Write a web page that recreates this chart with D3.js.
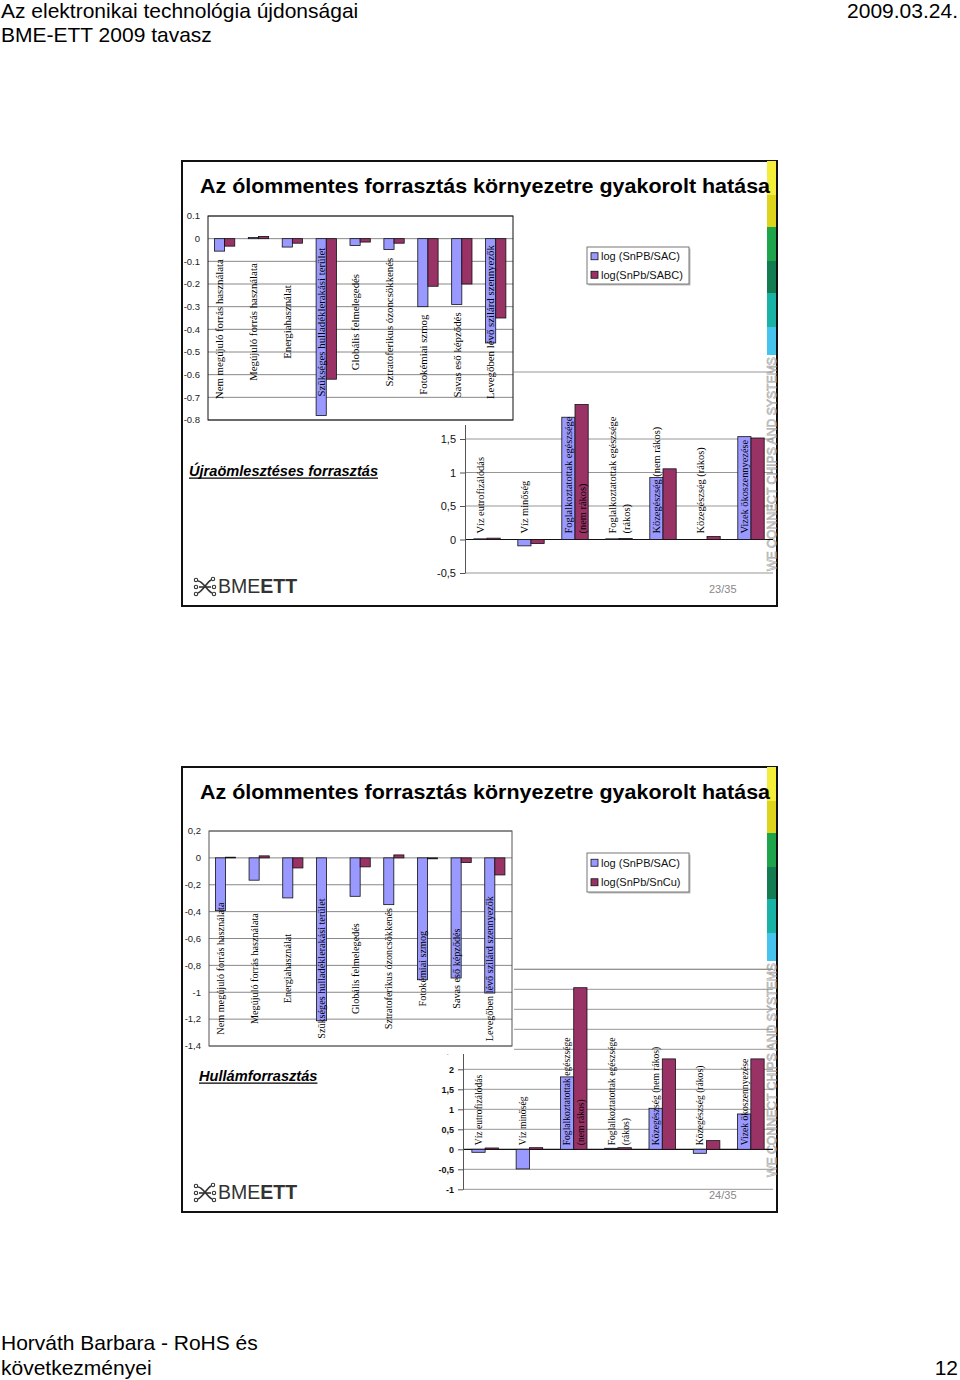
<!DOCTYPE html>
<html>
<head>
<meta charset="utf-8">
<script src="https://cdn.jsdelivr.net/npm/d3@7"></script>
<style>
  body { margin: 0; background: #fff; }
  svg { display: block; }
</style>
</head>
<body>
<svg id="page" width="960" height="1380"></svg>
<script>

// categories
var upperCategories = ['Nem megújuló forrás használata', 'Megújuló forrás használata', 'Energiahasználat',
    'Szükséges hulladéklerakási terület', 'Globális felmelegedés', 'Sztratoferikus ózoncsökkenés',
    'Fotokémiai szmog', 'Savas eső képződés', 'Levegőben lévő szilárd szennyezők']
var lowerCategories = ['Víz eutrofizálódás', 'Víz minőség', 'Foglalkoztatottak egészsége\n(nem rákos)',
    'Foglalkoztatottak egészsége\n(rákos)', 'Közegészség (nem rákos)', 'Közegészség (rákos)', 'Vizek ökoszennyezése']

// slide 23 - reflow soldering
var reflowUpperSAC  = [-0.055, 0.005, -0.037, -0.78, -0.03, -0.048, -0.30, -0.29, -0.46]
var reflowUpperSABC = [-0.033, 0.01, -0.02, -0.62, -0.015, -0.02, -0.21, -0.20, -0.35]
var reflowLowerSAC  = [0.01, -0.095, 1.825, 0.01, 0.925, 0, 1.535]
var reflowLowerSABC = [0.02, -0.06, 2.015, 0.015, 1.055, 0.045, 1.515]

// slide 24 - wave soldering
var waveUpperSAC  = [-0.393, -0.166, -0.298, -1.212, -0.286, -0.348, -0.907, -0.894, -1.006]
var waveUpperSnCu = [0.005, 0.015, -0.075, 0, -0.067, 0.022, -0.007, -0.035, -0.127]
var waveLowerSAC  = [-0.075, -0.49, 1.81, 0.025, 1.025, -0.1, 0.883]
var waveLowerSnCu = [0.033, 0.04, 4.04, 0.04, 2.26, 0.217, 2.26]

// legends
var reflowLegend = ['log (SnPB/SAC)', 'log(SnPb/SABC)']
var waveLegend = ['log (SnPB/SAC)', 'log(SnPb/SnCu)']

// tick values
var reflowUpperTicks = [0.1, 0, -0.1, -0.2, -0.3, -0.4, -0.5, -0.6, -0.7, -0.8]
var reflowLowerTicks = [1.5, 1, 0.5, 0, -0.5]
var waveUpperTicks = [0.2, 0, -0.2, -0.4, -0.6, -0.8, -1, -1.2, -1.4]
var waveLowerTicks = [4.5, 4, 3.5, 3, 2.5, 2, 1.5, 1, 0.5, 0, -0.5, -1]

var colours = { a: '#9999ff', b: '#993366' }
var stripeColours = ['#f4ee3a', '#ddd41c', '#1ea54b', '#137c50', '#19b3a5', '#46c4ee']
var sans = "'Liberation Sans', Arial, sans-serif"
var serif = "'Liberation Serif', 'Times New Roman', serif"

var slides = [
    {
        'top': 161, 'page': '23/35',
        'subtitle': { 'text': 'Újraömlesztéses forrasztás', 'x': 189, 'y': 475.7 },
        'cover': { 'x': 183, 'y': 203, 'w': 331, 'h': 222 },
        'legend': { 'x': 587, 'y': 247, 'w': 102, 'h': 37, 'labels': reflowLegend },
        'upper': { 'a': reflowUpperSAC, 'b': reflowUpperSABC, 'ticks': reflowUpperTicks, 'sep': '.',
            'domain': [-0.8, 0.1], 'left': 208, 'right': 513, 'top': 216, 'bottom': 420,
            'labelFont': 10.8, 'labelMid': 0.52, 'avoidBars': true, 'frame': '#111' },
        'lower': { 'a': reflowLowerSAC, 'b': reflowLowerSABC, 'ticks': reflowLowerTicks,
            'domain': [-0.5, 2.5], 'left': 465, 'right': 773, 'top': 372, 'bottom': 573,
            'labelFont': 10.4, 'tickFont': 11, 'tickWeight': 'normal', 'lift': 6 }
    },
    {
        'top': 767, 'page': '24/35',
        'subtitle': { 'text': 'Hullámforrasztás', 'x': 199, 'y': 1080.7 },
        'cover': { 'x': 183, 'y': 808, 'w': 331, 'h': 246 },
        'legend': { 'x': 587, 'y': 853, 'w': 102, 'h': 39, 'labels': waveLegend },
        'upper': { 'a': waveUpperSAC, 'b': waveUpperSnCu, 'ticks': waveUpperTicks, 'sep': ',',
            'domain': [-1.4, 0.2], 'left': 209, 'right': 512, 'top': 831, 'bottom': 1046,
            'labelFont': 10.2, 'labelMid': 0.64, 'avoidBars': false, 'frame': '#555' },
        'lower': { 'a': waveLowerSAC, 'b': waveLowerSnCu, 'ticks': waveLowerTicks,
            'domain': [-1, 4.5], 'left': 463, 'right': 773, 'top': 969.3, 'bottom': 1189.3,
            'labelFont': 9.6, 'tickFont': 9, 'tickWeight': 'bold', 'lift': 4 }
    }
]

var svg = d3.select('#page')

function fmt(v, sep) {
    return String(v).replace('.', sep)
}

// page header / footer
var header = svg.append('g').style('font-family', sans).style('font-size', '21px').attr('fill', '#000')
header.append('text').attr('x', 1).attr('y', 18).text('Az elektronikai technológia újdonságai')
header.append('text').attr('x', 1).attr('y', 42).text('BME-ETT 2009 tavasz')
header.append('text').attr('x', 958).attr('y', 18).attr('text-anchor', 'end').text('2009.03.24.')
header.append('text').attr('x', 1).attr('y', 1350).text('Horváth Barbara - RoHS és')
header.append('text').attr('x', 1).attr('y', 1375).text('következményei')
header.append('text').attr('x', 958).attr('y', 1375).attr('text-anchor', 'end').text('12')


function drawUpper(g, cfg) {
    var y = d3.scaleLinear().domain(cfg.domain).range([cfg.bottom, cfg.top])
    var x0 = d3.scaleBand().domain(upperCategories).range([cfg.left, cfg.right])
    var bw = x0.bandwidth()
    var x1 = d3.scaleBand().domain(['a', 'b']).range([bw * 0.19, bw * 0.79])

    g.append('rect')
    .attr('x', cfg.left).attr('y', cfg.top)
    .attr('width', cfg.right - cfg.left).attr('height', cfg.bottom - cfg.top)
    .attr('fill', '#fff')

    g.selectAll('.grid')
    .data(cfg.ticks)
    .enter()
    .append('line')
    .attr('x1', cfg.left).attr('x2', cfg.right)
    .attr('y1', d => y(d)).attr('y2', d => y(d))
    .style('stroke', '#7a7a7a')
    .style('stroke-width', 0.9)

    g.selectAll('.tick-label')
    .data(cfg.ticks)
    .enter()
    .append('text')
    .attr('x', cfg.left - 8)
    .attr('y', d => y(d))
    .attr('dy', '0.35em')
    .attr('text-anchor', 'end')
    .style('font-family', sans)
    .style('font-size', '9.5px')
    .attr('fill', '#222')
    .text(d => fmt(d, cfg.sep))

    // bars
    upperCategories.forEach(function(c, i) {
        [['a', cfg.a[i]], ['b', cfg.b[i]]].forEach(function(s) {
            g.append('rect')
            .attr('x', x0(c) + x1(s[0]))
            .attr('width', x1.bandwidth())
            .attr('y', y(Math.max(0, s[1])))
            .attr('height', Math.abs(y(s[1]) - y(0)))
            .attr('fill', colours[s[0]])
            .style('stroke', '#111')
            .style('stroke-width', 0.8)
        })
    })

    g.append('rect')
    .attr('x', cfg.left).attr('y', cfg.top)
    .attr('width', cfg.right - cfg.left).attr('height', cfg.bottom - cfg.top)
    .attr('fill', 'none')
    .style('stroke', cfg.frame)
    .style('stroke-width', 1)

    // category labels, rotated
    var mid = cfg.top + (cfg.bottom - cfg.top) * cfg.labelMid
    upperCategories.forEach(function(c, i) {
        var cx = x0(c) + x1('a') + x1.bandwidth() / 2
        var t = g.append('text')
        .attr('dy', '0.35em')
        .style('font-family', serif)
        .style('font-size', cfg.labelFont + 'px')
        .attr('fill', '#000')
        .text(c)

        var len = t.node().getComputedTextLength()
        var topY = mid - len / 2

        if (cfg.avoidBars) {
            var barBottom = y(Math.min(0, cfg.a[i], cfg.b[i])) + 8
            if (barBottom > topY && barBottom + len < cfg.bottom - 4) {
                topY = barBottom
            }
        }
        t.attr('transform', 'translate(' + cx + ',' + (topY + len) + ') rotate(-90)')
    })
}


function drawLower(g, cfg) {
    var y = d3.scaleLinear().domain(cfg.domain).range([cfg.bottom, cfg.top])
    var x0 = d3.scaleBand().domain(lowerCategories).range([cfg.left, cfg.right])
    var bw = x0.bandwidth()
    var x1 = d3.scaleBand().domain(['a', 'b']).range([bw * 0.2, bw * 0.8])

    // top of plot area
    g.append('line')
    .attr('x1', cfg.left).attr('x2', cfg.right)
    .attr('y1', y(cfg.domain[1])).attr('y2', y(cfg.domain[1]))
    .style('stroke', '#8a8a8a')
    .style('stroke-width', 0.9)

    g.selectAll('.grid')
    .data(cfg.ticks)
    .enter()
    .append('line')
    .attr('x1', cfg.left).attr('x2', cfg.right)
    .attr('y1', d => y(d)).attr('y2', d => y(d))
    .style('stroke', d => d === 0 ? '#111' : '#8a8a8a')
    .style('stroke-width', d => d === 0 ? 1.2 : 0.9)

    // axis
    var axis = d3.axisLeft(y)
    .tickValues(cfg.ticks)
    .tickSize(5)
    .tickSizeOuter(0)
    .tickPadding(4)
    .tickFormat(d => fmt(d, ','))

    var yAxis = g.append('g')
    .attr('transform', 'translate(' + cfg.left + ',0)')
    .call(axis)

    yAxis.select('.domain').style('stroke', '#555')
    yAxis.selectAll('.tick line').style('stroke', '#555')
    yAxis.selectAll('.tick text')
    .style('font-family', sans)
    .style('font-size', cfg.tickFont + 'px')
    .style('font-weight', cfg.tickWeight)
    .attr('fill', '#111')

    // bars
    lowerCategories.forEach(function(c, i) {
        [['a', cfg.a[i]], ['b', cfg.b[i]]].forEach(function(s) {
            g.append('rect')
            .attr('x', x0(c) + x1(s[0]))
            .attr('width', x1.bandwidth())
            .attr('y', y(Math.max(0, s[1])))
            .attr('height', Math.abs(y(s[1]) - y(0)))
            .attr('fill', colours[s[0]])
            .style('stroke', '#111')
            .style('stroke-width', 0.8)
        })
    })

    // category labels, rotated, wrapped lines side by side
    var baseY = y(0) - cfg.lift
    lowerCategories.forEach(function(c) {
        var cx = x0(c) + x1('a') + x1.bandwidth() / 2
        c.split('\n').forEach(function(line, k) {
            g.append('text')
            .attr('transform', 'translate(' + (cx + k * 14) + ',' + baseY + ') rotate(-90)')
            .attr('dy', '0.35em')
            .style('font-family', serif)
            .style('font-size', cfg.labelFont + 'px')
            .attr('fill', '#000')
            .text(line)
        })
    })
}


function drawLegend(g, cfg) {
    g.append('rect')
    .attr('x', cfg.x + 1.5).attr('y', cfg.y + 1.5)
    .attr('width', cfg.w).attr('height', cfg.h)
    .attr('fill', '#bbb')

    g.append('rect')
    .attr('x', cfg.x).attr('y', cfg.y)
    .attr('width', cfg.w).attr('height', cfg.h)
    .attr('fill', '#fff')
    .style('stroke', '#777')
    .style('stroke-width', 1)

    var keys = ['a', 'b']
    var rowH = cfg.h / 2
    cfg.labels.forEach(function(label, i) {
        var cy = cfg.y + rowH * (i + 0.5)
        g.append('rect')
        .attr('x', cfg.x + 4).attr('y', cy - 3.5)
        .attr('width', 7).attr('height', 7)
        .attr('fill', colours[keys[i]])
        .style('stroke', '#111')
        .style('stroke-width', 0.8)

        g.append('text')
        .attr('x', cfg.x + 14).attr('y', cy)
        .attr('dy', '0.36em')
        .style('font-family', sans)
        .style('font-size', '11px')
        .attr('fill', '#111')
        .text(label)
    })
}


function drawLogo(g, x, y) {
    // small circuit glyph
    var icon = g.append('g')
    .style('stroke', '#333').style('stroke-width', 1.6).attr('fill', 'none')
    icon.append('path').attr('d', 'M' + (x - 20) + ',' + (y - 12) + ' C' + (x - 15) + ',' + (y - 12) + ' ' + (x - 11) + ',' + (y - 2) + ' ' + (x - 6) + ',' + (y + 0))
    icon.append('path').attr('d', 'M' + (x - 7) + ',' + (y - 13) + ' C' + (x - 11) + ',' + (y - 11) + ' ' + (x - 15) + ',' + (y - 2) + ' ' + (x - 20) + ',' + (y + 0))
    icon.append('path').attr('d', 'M' + (x - 19) + ',' + (y - 6) + ' L' + (x - 7) + ',' + (y - 6))
    ;[[-22, -13], [-5, -14], [-22, 1], [-4, 1], [-22, -6], [-4, -6]].forEach(function(p) {
        icon.append('circle')
        .attr('cx', x + p[0]).attr('cy', y + p[1]).attr('r', 1.7)
        .attr('fill', '#fff').style('stroke-width', 1.1)
    })

    var t = g.append('text')
    .attr('x', x).attr('y', y)
    .style('font-family', sans)
    .style('font-size', '19.5px')
    .attr('fill', '#333')
    t.append('tspan').text('BME')
    t.append('tspan').style('font-weight', 'bold').text('ETT')
}


slides.forEach(function(s) {
    var g = svg.append('g')
    var top = s.top

    // slide frame
    g.append('rect')
    .attr('x', 182).attr('y', top)
    .attr('width', 595).attr('height', 445)
    .attr('fill', '#fff')
    .style('stroke', '#111')
    .style('stroke-width', 2)

    // colour stripe
    var cuts = [0, 34, 66, 100, 132, 166, 194]
    stripeColours.forEach(function(c, i) {
        g.append('rect')
        .attr('x', 767).attr('y', top + cuts[i])
        .attr('width', 9).attr('height', cuts[i + 1] - cuts[i])
        .attr('fill', c)
    })

    g.append('text')
    .attr('transform', 'translate(776,' + (top + 410) + ') rotate(-90)')
    .attr('textLength', 214)
    .attr('lengthAdjust', 'spacingAndGlyphs')
    .style('font-family', sans)
    .style('font-size', '13px')
    .attr('fill', '#fff')
    .style('stroke', '#aaa')
    .style('stroke-width', 0.7)
    .text('WE CONNECT CHIPS AND SYSTEMS')

    drawLower(g.append('g'), s.lower)

    // white area of the upper picture
    g.append('rect')
    .attr('x', s.cover.x).attr('y', s.cover.y)
    .attr('width', s.cover.w).attr('height', s.cover.h)
    .attr('fill', '#fff')

    drawUpper(g.append('g'), s.upper)
    drawLegend(g.append('g'), s.legend)

    g.append('text')
    .attr('x', 200).attr('y', top + 32)
    .attr('textLength', 570)
    .attr('lengthAdjust', 'spacingAndGlyphs')
    .style('font-family', sans)
    .style('font-size', '20.5px')
    .style('font-weight', 'bold')
    .attr('fill', '#000')
    .text('Az ólommentes forrasztás környezetre gyakorolt hatása')

    var sub = g.append('text')
    .attr('x', s.subtitle.x).attr('y', s.subtitle.y)
    .style('font-family', sans)
    .style('font-size', '14.6px')
    .style('font-weight', 'bold')
    .style('font-style', 'italic')
    .attr('fill', '#000')
    .text(s.subtitle.text)

    var subLen = sub.node().getComputedTextLength()
    g.append('line')
    .attr('x1', s.subtitle.x).attr('x2', s.subtitle.x + subLen)
    .attr('y1', s.subtitle.y + 2.5).attr('y2', s.subtitle.y + 2.5)
    .style('stroke', '#000')
    .style('stroke-width', 1.3)

    drawLogo(g, 218, top + 432)

    g.append('text')
    .attr('x', 709).attr('y', top + 432)
    .style('font-family', sans)
    .style('font-size', '11px')
    .attr('fill', '#888')
    .text(s.page)
})

</script>
</body>
</html>
